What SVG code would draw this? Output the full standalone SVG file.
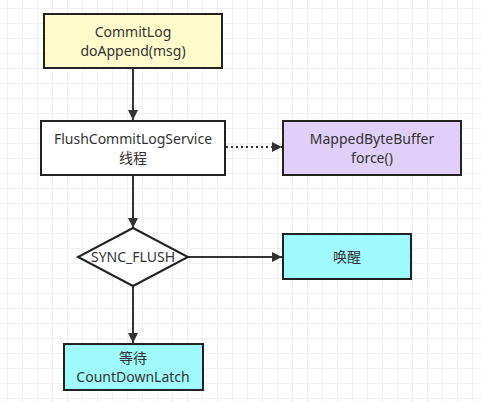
<svg xmlns="http://www.w3.org/2000/svg" width="481" height="402" viewBox="0 0 481 402">
<defs>
<pattern id="grid" x="7" y="8" width="15" height="15" patternUnits="userSpaceOnUse">
<path d="M0 0H15M0 0V15" fill="none" stroke="#e3e3e3" stroke-width="1"/>
</pattern>
<marker id="arr" viewBox="0 0 10 10" refX="10" refY="5" markerWidth="10" markerHeight="10" markerUnits="userSpaceOnUse" orient="auto">
<path d="M0 0L10 5L0 10Z" fill="#333"/>
</marker>
</defs>
<style>
.box{stroke:#222;stroke-width:2}
.t{font-family:"Noto Sans","Noto Sans CJK SC",sans-serif;font-size:14px;fill:#333;text-anchor:middle}
.c{fill:none;stroke:#333;stroke-width:2}
</style>
<rect width="481" height="402" fill="#fff"/>
<rect width="481" height="402" fill="url(#grid)"/>
<g id="connectors">
<path class="c" d="M133 68V120" marker-end="url(#arr)"/>
<path class="c" d="M226 147H282" stroke-dasharray="2 3" marker-end="url(#arr)"/>
<path class="c" d="M133 175V228" marker-end="url(#arr)"/>
<path class="c" d="M188 257H282" marker-end="url(#arr)"/>
<path class="c" d="M133 286V343" marker-end="url(#arr)"/>
</g>
<g id="commitlog">
<rect class="box" x="44" y="14" width="178" height="54" fill="#fefccb"/>
<text class="t" x="133" y="37">CommitLog</text>
<text class="t" x="133" y="56">doAppend(msg)</text>
</g>
<g id="flush">
<rect class="box" x="41" y="121" width="184" height="54" fill="#fff"/>
<text class="t" x="133" y="144">FlushCommitLogService</text>
<text class="t" x="133" y="163">线程</text>
</g>
<g id="mapped">
<rect class="box" x="283" y="121" width="178" height="54" fill="#e0cff7"/>
<text class="t" x="372" y="144">MappedByteBuffer</text>
<text class="t" x="372" y="163">force()</text>
</g>
<g id="sync">
<path class="box" d="M133 228L188 257L133 286L78 257Z" fill="#fff"/>
<text class="t" x="133" y="262">SYNC_FLUSH</text>
</g>
<g id="wakeup">
<rect class="box" x="283" y="234" width="128" height="45" fill="#9ffbfb"/>
<text class="t" x="347" y="262">唤醒</text>
</g>
<g id="wait">
<rect class="box" x="64" y="344" width="139" height="46" fill="#9ffbfb"/>
<text class="t" x="133" y="363">等待</text>
<text class="t" x="133" y="382">CountDownLatch</text>
</g>
</svg>
